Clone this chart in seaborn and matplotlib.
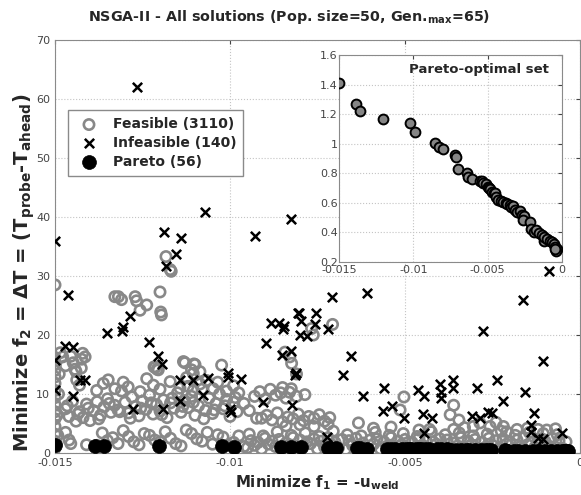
import pandas as pd
import matplotlib
matplotlib.use("Agg")
import matplotlib.pyplot as plt
import matplotlib.ticker as mticker
import seaborn as sns

# --- data (f1, f2) ---

feasible_edge = [
    (-0.01500, 0.8), (-0.01500, 2.0), (-0.01500, 3.2), (-0.01500, 4.5), (-0.01500, 5.8),
    (-0.01500, 7.0), (-0.01500, 8.2), (-0.01500, 9.4), (-0.01500, 10.6), (-0.01500, 11.8),
    (-0.01500, 12.9), (-0.01500, 14.0), (-0.01500, 15.1), (-0.01500, 16.2), (-0.01500, 28.5),
    (-0.01496, 1.5), (-0.01494, 6.4), (-0.01490, 10.0), (-0.01488, 13.4), (-0.01485, 17.0),
    (-0.01478, 16.3), (-0.01470, 14.8), (-0.01492, 3.0),
]

feasible_upper = [
    (-0.01455, 16.4), (-0.01448, 15.3), (-0.01443, 14.2), (-0.01440, 13.8), (-0.01421, 16.9),
    (-0.01414, 16.3), (-0.01424, 15.9), (-0.01438, 12.4), (-0.01430, 11.5), (-0.01425, 14.4),
    (-0.01329, 26.5), (-0.01319, 26.5), (-0.01310, 26.0), (-0.01271, 26.5), (-0.01267, 25.8),
    (-0.01257, 24.2), (-0.01238, 25.1), (-0.01200, 27.3), (-0.01198, 23.9), (-0.01196, 23.4),
    (-0.01183, 33.3), (-0.01171, 31.1), (-0.01168, 30.8),
    (-0.01217, 14.6), (-0.01208, 14.2), (-0.01214, 14.5), (-0.01205, 14.1),
    (-0.01133, 15.5), (-0.01100, 15.0), (-0.01105, 13.5), (-0.01129, 15.3), (-0.01103, 15.1),
    (-0.01110, 14.1), (-0.01024, 14.9), (-0.01086, 13.8),
    (-0.00707, 21.8), (-0.00767, 21.1), (-0.00762, 20.0), (-0.00843, 17.1), (-0.00829, 16.3),
    (-0.00824, 15.2), (-0.00810, 13.4),
]

feasible_mid10 = [
    (-0.01381, 10.6), (-0.01362, 11.8), (-0.01348, 12.4), (-0.01329, 10.9), (-0.01305, 12.0),
    (-0.01291, 11.2), (-0.01257, 10.4), (-0.01238, 12.6), (-0.01219, 11.5), (-0.01200, 10.8),
    (-0.01171, 12.1), (-0.01143, 11.0), (-0.01124, 12.8), (-0.01105, 10.6), (-0.01086, 11.7),
    (-0.01067, 12.3), (-0.01048, 10.9), (-0.01120, 11.3), (-0.01035, 12.0), (-0.01010, 10.5),
    (-0.00990, 11.4), (-0.00975, 10.2),
]

feasible_band7 = [
    (-0.0147, 7.5), (-0.0146, 6.2), (-0.0145, 8.8), (-0.0144, 5.4), (-0.0143, 7.0),
    (-0.0142, 6.0), (-0.0141, 8.3), (-0.0140, 5.5), (-0.0139, 7.2), (-0.0138, 8.7),
    (-0.0137, 6.4), (-0.0136, 7.8), (-0.0135, 9.2), (-0.0134, 6.9), (-0.0133, 8.1),
    (-0.0132, 7.3), (-0.0131, 10.5), (-0.0130, 8.6), (-0.0129, 6.8), (-0.0128, 9.5),
    (-0.0127, 7.9), (-0.0126, 6.3), (-0.0125, 8.8), (-0.0124, 7.4), (-0.0123, 9.8),
    (-0.0122, 6.6), (-0.0121, 8.2), (-0.0120, 7.1), (-0.0119, 9.0), (-0.0118, 6.0),
    (-0.0117, 8.5), (-0.0116, 7.6), (-0.0115, 10.2), (-0.0114, 6.9), (-0.0113, 8.9),
    (-0.0112, 7.7), (-0.0111, 9.6), (-0.0110, 6.4), (-0.0109, 8.0), (-0.0108, 10.8),
    (-0.0107, 7.2), (-0.0106, 9.3), (-0.0105, 6.7), (-0.0104, 8.4), (-0.0103, 10.0),
    (-0.0102, 7.5), (-0.0101, 9.1), (-0.0100, 6.2), (-0.0099, 8.6), (-0.0098, 7.0),
    (-0.01465, 8.0), (-0.01435, 6.6), (-0.01405, 7.6), (-0.01375, 5.8), (-0.01345, 8.4),
    (-0.01315, 7.0), (-0.01285, 5.9), (-0.01255, 7.6), (-0.01225, 8.5), (-0.01195, 6.5),
    (-0.01165, 9.3), (-0.01135, 7.9), (-0.01105, 8.6), (-0.01075, 5.8), (-0.01045, 7.3),
    (-0.01015, 8.0), (-0.00985, 9.4),
]

feasible_midband = [
    (-0.00960, 8.4), (-0.00945, 7.2), (-0.00930, 9.6), (-0.00915, 10.4), (-0.00900, 9.1),
    (-0.00885, 10.8), (-0.00870, 9.8), (-0.00855, 10.2), (-0.00840, 9.3), (-0.00825, 10.9),
    (-0.00910, 5.9), (-0.00895, 6.4), (-0.00880, 5.6), (-0.00865, 6.8), (-0.00850, 5.3),
    (-0.00835, 6.1), (-0.00820, 5.8), (-0.00805, 6.6), (-0.00790, 5.5), (-0.00775, 6.2),
    (-0.00760, 5.9), (-0.00745, 6.5), (-0.00730, 5.4), (-0.00715, 6.0), (-0.00850, 11.1),
    (-0.00830, 10.3), (-0.00810, 9.6), (-0.00786, 9.9), (-0.00924, 5.9), (-0.00633, 5.1),
    (-0.00840, 4.6), (-0.00800, 4.8), (-0.00760, 4.5), (-0.00720, 4.9),
]

feasible_right = [
    (-0.00503, 9.5), (-0.00514, 7.3), (-0.00371, 6.5), (-0.00361, 4.0), (-0.00346, 5.6),
    (-0.00305, 4.5), (-0.00286, 5.1), (-0.00257, 4.5), (-0.00219, 4.5), (-0.00210, 3.6),
    (-0.00361, 8.1), (-0.00590, 4.2), (-0.00540, 4.4), (-0.00430, 4.0), (-0.00460, 3.9),
    (-0.00330, 4.3), (-0.00180, 4.0), (-0.00150, 4.2), (-0.00120, 4.0), (-0.00095, 3.9),
    (-0.00070, 4.1), (-0.00240, 5.2),
]

feasible_bottom_left = [
    (-0.01470, 3.5), (-0.01460, 2.2), (-0.01455, 1.6), (-0.01410, 1.4),
    (-0.0138, 1.3), (-0.0135, 2.1), (-0.0132, 1.6), (-0.0129, 2.8), (-0.0126, 1.4),
    (-0.0123, 3.0), (-0.0120, 1.9), (-0.0117, 2.5), (-0.0114, 1.2), (-0.0111, 3.3),
    (-0.0108, 2.0), (-0.0105, 1.5), (-0.0102, 2.7), (-0.0099, 1.8), (-0.0096, 1.1),
    (-0.01365, 3.4), (-0.01335, 2.6), (-0.01305, 3.8), (-0.01275, 1.9), (-0.01245, 3.3),
    (-0.01215, 2.2), (-0.01185, 3.6), (-0.01155, 1.6), (-0.01125, 3.9), (-0.01095, 2.4),
    (-0.01065, 3.5), (-0.01035, 3.1), (-0.01005, 1.4), (-0.00975, 2.9),
]

feasible_bottom_right = [
    (-0.0095, 0.9), (-0.0093, 1.3), (-0.0091, 0.7), (-0.0089, 1.5), (-0.0087, 1.1),
    (-0.0085, 0.6), (-0.0083, 1.4), (-0.0081, 0.8), (-0.0079, 1.2), (-0.0077, 1.6),
    (-0.0075, 0.7), (-0.0073, 1.0), (-0.0071, 1.4), (-0.0069, 0.9), (-0.0067, 0.6),
    (-0.0065, 1.3), (-0.0063, 1.1), (-0.0061, 0.8), (-0.0059, 1.5), (-0.0057, 0.7),
    (-0.0055, 1.2), (-0.0053, 0.9), (-0.0051, 1.4), (-0.0049, 0.6), (-0.0047, 1.0),
    (-0.0045, 1.3), (-0.0043, 0.8), (-0.0041, 1.5), (-0.0039, 1.1), (-0.0037, 0.7),
    (-0.0035, 1.2), (-0.0033, 0.9), (-0.0031, 1.4), (-0.0029, 0.6), (-0.0027, 1.0),
    (-0.0025, 1.3), (-0.0023, 0.8), (-0.0021, 1.5), (-0.0019, 0.7), (-0.0017, 1.1),
    (-0.0015, 1.4), (-0.0013, 0.9), (-0.0011, 0.6), (-0.0009, 1.2), (-0.0007, 1.0),
    (-0.0005, 0.8),
    (-0.0094, 2.1), (-0.0092, 1.8), (-0.0090, 2.5), (-0.0088, 2.0), (-0.0086, 2.3),
    (-0.0084, 1.7), (-0.0082, 2.6), (-0.0080, 2.2), (-0.0078, 1.9), (-0.0076, 2.4),
    (-0.0074, 2.0), (-0.0072, 2.6), (-0.0070, 1.8), (-0.0068, 2.3), (-0.0066, 2.1),
    (-0.0064, 2.5), (-0.0062, 1.7), (-0.0060, 2.2), (-0.0058, 2.4), (-0.0056, 1.9),
    (-0.0054, 2.6), (-0.0052, 2.0), (-0.0050, 2.3), (-0.0048, 1.8), (-0.0046, 2.5),
    (-0.0044, 2.1), (-0.0042, 1.9), (-0.0040, 2.4), (-0.0038, 2.2), (-0.0036, 1.7),
    (-0.0034, 2.6), (-0.0032, 2.0), (-0.0030, 2.3), (-0.0028, 1.8), (-0.0026, 2.5),
    (-0.0024, 2.1), (-0.0022, 2.4), (-0.0020, 1.9), (-0.0018, 2.2), (-0.0016, 2.6),
    (-0.0014, 1.8), (-0.0012, 2.3), (-0.0010, 2.0), (-0.0008, 2.5), (-0.0006, 2.1),
    (-0.0004, 1.9),
    (-0.00945, 3.2), (-0.00905, 2.9), (-0.00865, 3.6), (-0.00825, 3.0), (-0.00785, 3.4),
    (-0.00745, 2.8), (-0.00705, 3.7), (-0.00665, 3.1), (-0.00625, 2.9), (-0.00585, 3.5),
    (-0.00545, 3.0), (-0.00505, 3.3), (-0.00465, 2.8), (-0.00425, 3.6), (-0.00385, 3.1),
    (-0.00345, 3.4), (-0.00305, 2.9), (-0.00265, 3.2), (-0.00225, 3.7), (-0.00185, 3.0),
    (-0.00145, 3.5), (-0.00105, 3.3), (-0.00065, 3.1),
]

infeasible = [
    (-0.01265, 62.1), (-0.01500, 36.0), (-0.01188, 37.4), (-0.01140, 36.5), (-0.01154, 33.8),
    (-0.01183, 31.7), (-0.01071, 40.9), (-0.00930, 36.8), (-0.00826, 39.6), (-0.01462, 26.8),
    (-0.01500, 15.8), (-0.01500, 10.7), (-0.01471, 18.1), (-0.01448, 18.0), (-0.01448, 9.7),
    (-0.01429, 12.4), (-0.01414, 12.4), (-0.01352, 20.3), (-0.01309, 20.6), (-0.01305, 21.4),
    (-0.01286, 23.2), (-0.01278, 7.4), (-0.01231, 18.8), (-0.01205, 16.4), (-0.01195, 15.1),
    (-0.01191, 7.4), (-0.01143, 12.4), (-0.01143, 8.9), (-0.01105, 12.4), (-0.01076, 9.8),
    (-0.01062, 12.7), (-0.01007, 13.5), (-0.01005, 12.9), (-0.01000, 7.4), (-0.00998, 6.9),
    (-0.00970, 12.5), (-0.00905, 8.7), (-0.00898, 18.6), (-0.00884, 22.1), (-0.00859, 22.1),
    (-0.00850, 21.0), (-0.00845, 21.5), (-0.00852, 16.6), (-0.00827, 17.3), (-0.00811, 13.6),
    (-0.00815, 13.3), (-0.00824, 8.1), (-0.00805, 23.7), (-0.00709, 26.5), (-0.00608, 27.2),
    (-0.00802, 23.8), (-0.00754, 23.8), (-0.00798, 22.3), (-0.00757, 21.9), (-0.00719, 21.1),
    (-0.00800, 20.0), (-0.00781, 19.8), (-0.00655, 16.4), (-0.00678, 13.2), (-0.00619, 9.7),
    (-0.00560, 11.0), (-0.00538, 8.0), (-0.00564, 7.1), (-0.00503, 6.0), (-0.00462, 10.7),
    (-0.00446, 9.7), (-0.00448, 6.6), (-0.00424, 5.9), (-0.00446, 3.4), (-0.00400, 11.7),
    (-0.00398, 10.4), (-0.00398, 9.3), (-0.00364, 12.3), (-0.00364, 11.0), (-0.00295, 11.0),
    (-0.00310, 6.3), (-0.00286, 5.9), (-0.00276, 20.6), (-0.00262, 7.0), (-0.00252, 6.8),
    (-0.00238, 12.3), (-0.00219, 8.9), (-0.00164, 25.9), (-0.00157, 10.4), (-0.00141, 4.8),
    (-0.00141, 3.6), (-0.00131, 6.8), (-0.00105, 15.6), (-0.00105, 2.3), (-0.00120, 2.5),
    (-0.00052, 3.4), (-0.00724, 2.8), (-0.00089, 30.8),
]

pareto = [
    (-0.01499, 1.413), (-0.01386, 1.269), (-0.01359, 1.219), (-0.01202, 1.169), (-0.01022, 1.142),
    (-0.00989, 1.081), (-0.00854, 1.007), (-0.00827, 0.976), (-0.00798, 0.962), (-0.00720, 0.922),
    (-0.00715, 0.908), (-0.00697, 0.827), (-0.00637, 0.804), (-0.00630, 0.777), (-0.00608, 0.759),
    (-0.00552, 0.750), (-0.00540, 0.745), (-0.00530, 0.737), (-0.00508, 0.728), (-0.00497, 0.709),
    (-0.00490, 0.700), (-0.00482, 0.691), (-0.00469, 0.675), (-0.00460, 0.665), (-0.00453, 0.666),
    (-0.00442, 0.642), (-0.00431, 0.620), (-0.00410, 0.615), (-0.00397, 0.609), (-0.00379, 0.600),
    (-0.00370, 0.595), (-0.00353, 0.588), (-0.00340, 0.575), (-0.00327, 0.578), (-0.00316, 0.555),
    (-0.00300, 0.536), (-0.00282, 0.543), (-0.00271, 0.521), (-0.00255, 0.510), (-0.00264, 0.483),
    (-0.00215, 0.472), (-0.00210, 0.423), (-0.00190, 0.405), (-0.00178, 0.414), (-0.00156, 0.398),
    (-0.00133, 0.385), (-0.00120, 0.340), (-0.00118, 0.370), (-0.00099, 0.358), (-0.00082, 0.345),
    (-0.00066, 0.336), (-0.00051, 0.324), (-0.00044, 0.302), (-0.00033, 0.291), (-0.00038, 0.272),
    (-0.00045, 0.285),
]

feasible_df = pd.DataFrame(
    feasible_edge + feasible_upper + feasible_mid10 + feasible_band7
    + feasible_midband + feasible_right + feasible_bottom_left + feasible_bottom_right,
    columns=["f1", "f2"])
infeasible_df = pd.DataFrame(infeasible, columns=["f1", "f2"])
pareto_df = pd.DataFrame(pareto, columns=["f1", "f2"])


def main():
    sns.set_style("white")
    plt.rcParams["font.family"] = ["DejaVu Sans"]
    plt.rcParams["mathtext.default"] = "bf"

    fig = plt.figure(figsize=(5.81, 4.95), dpi=100)
    ax = fig.add_axes([0.0947, 0.0848, 0.9036, 0.8343])

    sns.scatterplot(data=feasible_df, x="f1", y="f2", ax=ax, marker="o", s=55,
                    facecolors="none", edgecolors="#888888", linewidth=1.9,
                    label="Feasible (3110)", zorder=2)
    sns.scatterplot(data=infeasible_df, x="f1", y="f2", ax=ax, marker="x", s=45,
                    color="black", linewidth=1.8, label="Infeasible (140)", zorder=3)
    sns.scatterplot(data=pareto_df, x="f1", y="f2", ax=ax, marker="o", s=100,
                    color="black", edgecolor="black", linewidth=0.5,
                    label="Pareto (56)", zorder=4)

    ax.set_xlim(-0.015, 0)
    ax.set_ylim(0, 70)
    ax.set_xticks([-0.015, -0.01, -0.005, 0])
    ax.set_yticks(range(0, 71, 10))
    ax.xaxis.set_major_formatter(mticker.FormatStrFormatter("%g"))
    ax.grid(True, linestyle=":", color="#c4c4c4", linewidth=0.8)
    ax.tick_params(direction="in", length=3, labelsize=8, colors="#444444",
                   top=True, right=True)
    for sp in ax.spines.values():
        sp.set_color("#8a8a8a")
    ax.set_title("NSGA-II - All solutions (Pop. size=50, Gen.$_{max}$=65)",
                 fontsize=10.3, fontweight="bold", pad=14, x=0.446)
    ax.set_xlabel("Minimize f$_1$ = -u$_{weld}$", fontsize=10.8, fontweight="bold", labelpad=4)
    ax.set_ylabel("Minimize f$_2$ = ΔT = (T$_{probe}$-T$_{ahead}$)", fontsize=14,
                  fontweight="bold")
    ax.yaxis.set_label_coords(-0.034, 0.436)

    leg = ax.legend(loc="upper left", bbox_to_anchor=(0.025, 0.83), borderaxespad=0,
                    fancybox=False, framealpha=1, edgecolor="#8a8a8a",
                    prop={"weight": "bold", "size": 10}, handletextpad=0.7,
                    labelspacing=0.35, borderpad=0.5)
    leg.get_frame().set_linewidth(1.0)

    # inset with the Pareto-optimal set
    ins = fig.add_axes([0.5835, 0.4707, 0.3838, 0.4182])
    sns.scatterplot(data=pareto_df, x="f1", y="f2", ax=ins, marker="o", s=50,
                    color="#858585", edgecolor="black", linewidth=1.4, zorder=3)
    ins.set_xlim(-0.015, 0)
    ins.set_ylim(0.2, 1.6)
    ins.set_xticks([-0.015, -0.01, -0.005, 0])
    ins.set_yticks([0.2, 0.4, 0.6, 0.8, 1.0, 1.2, 1.4, 1.6])
    ins.xaxis.set_major_formatter(mticker.FormatStrFormatter("%g"))
    ins.yaxis.set_major_formatter(mticker.FormatStrFormatter("%g"))
    ins.grid(True, linestyle=":", color="#c4c4c4", linewidth=0.8)
    ins.tick_params(direction="in", length=3, labelsize=8, colors="#444444",
                    top=True, right=True, pad=1)
    ins.tick_params(axis="x", pad=2)
    ins.set_xlabel("")
    ins.set_ylabel("")
    for sp in ins.spines.values():
        sp.set_color("#8a8a8a")
    ins.text(0.94, 0.93, "Pareto-optimal set", transform=ins.transAxes, ha="right",
             va="center", fontsize=9.5, fontweight="bold")

    plt.savefig("out.png", dpi=100)


if __name__ == "__main__":
    main()
